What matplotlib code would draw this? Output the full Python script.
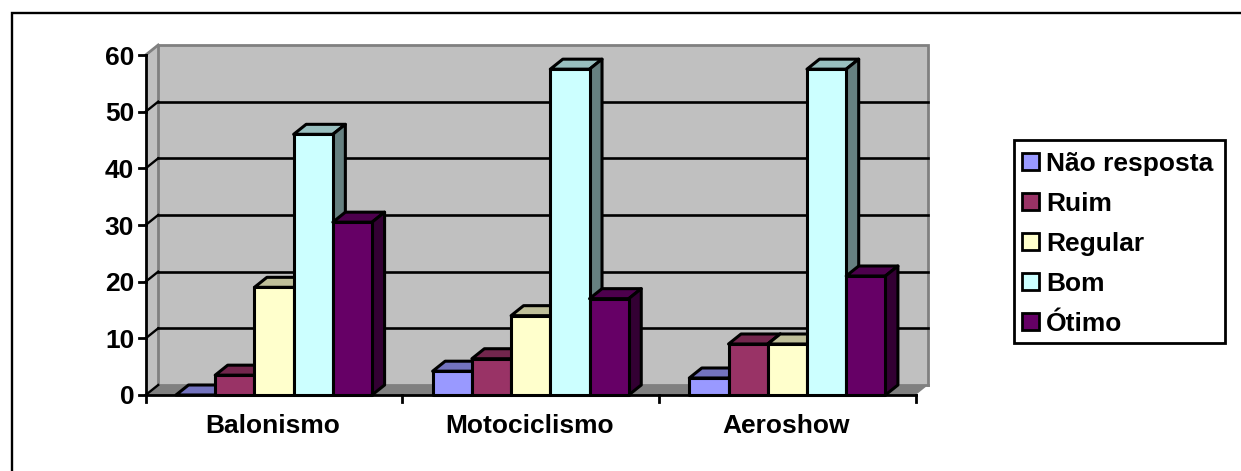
import matplotlib
matplotlib.use("Agg")
import matplotlib.pyplot as plt
from matplotlib.patches import Polygon, Rectangle
from matplotlib.colors import to_rgb

categories = ["Balonismo", "Motociclismo", "Aeroshow"]
series_names = ["Não resposta", "Ruim", "Regular", "Bom", "Ótimo"]
nao_resposta = [0, 4.2, 3.0]
ruim = [3.5, 6.4, 9.0]
regular = [19.0, 14.0, 9.0]
bom = [46.0, 57.5, 57.5]
otimo = [30.5, 17.0, 21.0]
series_values = [nao_resposta, ruim, regular, bom, otimo]
colors = ["#9999FF", "#993366", "#FFFFCC", "#CCFFFF", "#660066"]
y_ticks = [0, 10, 20, 30, 40, 50, 60]

W, H = 1241, 471
FS = 19.0
plt.rcParams["font.family"] = ["Liberation Sans", "DejaVu Sans"]
fig = plt.figure(figsize=(W / 100, H / 100), dpi=100)

# Outer frame of the chart area; only its top and left edges fall inside the figure
overlay = fig.add_axes([0, 0, 1, 1], zorder=0)
overlay.set_xlim(0, W)
overlay.set_ylim(H, 0)
overlay.axis("off")
overlay.plot([11.5, 11.5, W], [H, 12.5, 12.5], color="black", lw=1.7, solid_joinstyle="miter")

# Front plane of the plot: x runs across the three categories, y across the value scale
px_left, px_right, px_zero, px_top = 145.7, 915.7, 395.0, 55.0
ax = fig.add_axes([px_left / W, 1 - px_zero / H, (px_right - px_left) / W, (px_zero - px_top) / H],
                  zorder=1)
ax.set_xlim(0, 3)
ax.set_ylim(0, 60)
ax.patch.set_alpha(0)
for s in ax.spines.values():
    s.set_visible(False)
ax.set_xticks([])
ax.set_yticks([])

# Depth of the oblique projection, in data units
dx = 12.5 / ((px_right - px_left) / 3)
dy = 10 / ((px_zero - px_top) / 60)


def shade(color, factor):
    return tuple(c * factor for c in to_rgb(color))


def poly(points, fc, ec="none", lw=0.0, z=1):
    ax.add_patch(Polygon(points, closed=True, fc=fc, ec=ec, lw=lw, zorder=z,
                         clip_on=False, joinstyle="round"))


# Walls and floor
poly([(dx, dy), (3 + dx, dy), (3 + dx, 60 + dy), (dx, 60 + dy)], "#C0C0C0", z=1)
poly([(0, 0), (dx, dy), (dx, 60 + dy), (0, 60)], "#C0C0C0", z=1)
poly([(0, 0), (3, 0), (3 + dx, dy), (dx, dy)], "#808080", z=1)
ax.plot([dx, dx, 3 + dx, 3 + dx], [dy, 60 + dy, 60 + dy, dy], color="#808080", lw=2.0,
        clip_on=False, zorder=1.5, solid_joinstyle="miter")
ax.plot([dx, 3 + dx], [dy, dy], color="#808080", lw=2.0, clip_on=False, zorder=1.5)
ax.plot([0, dx], [60, 60 + dy], color="#808080", lw=2.0, clip_on=False, zorder=1.5)

# Gridlines on the back wall and their returns on the side wall
for t in y_ticks[1:-1]:
    ax.plot([dx, 3 + dx], [t + dy, t + dy], color="black", lw=1.9, clip_on=False, zorder=2)
for t in y_ticks[:-1]:
    ax.plot([0, dx], [t, t + dy], color="black", lw=1.7, clip_on=False, zorder=2)

# Bars, drawn left to right so each front face covers its neighbour's side
bar_w = 0.1528
group_start = 0.118
for i in range(len(categories)):
    for j, (vals, col) in enumerate(zip(series_values, colors)):
        v = vals[i]
        x0 = i + group_start + j * bar_w
        x1 = x0 + bar_w
        z = 3 + i + j * 0.1
        poly([(x0, v), (x1, v), (x1 + dx, v + dy), (x0 + dx, v + dy)], shade(col, 0.75), "black", 2.2, z)
        poly([(x1, 0), (x1 + dx, dy), (x1 + dx, v + dy), (x1, v)], shade(col, 0.5), "black", 2.2, z)
        if v > 0:
            poly([(x0, 0), (x1, 0), (x1, v), (x0, v)], col, "black", 2.2, z + 0.01)

# Axis lines, ticks and labels
ax.plot([0, 0], [0, 60], color="black", lw=2.0, clip_on=False, zorder=20)
ax.plot([0, 3], [0, 0], color="black", lw=2.0, clip_on=False, zorder=20)
tick_x = 7 / ((px_right - px_left) / 3)
tick_y = 7 / ((px_zero - px_top) / 60)
for t in y_ticks:
    ax.plot([-tick_x, 0], [t, t], color="black", lw=2.0, clip_on=False, zorder=20)
    ax.annotate(str(t), (0, t), xytext=(-8.3, 0), textcoords="offset points", ha="right",
                va="center_baseline", fontsize=FS, fontweight="bold", annotation_clip=False)
for c in range(4):
    ax.plot([c, c], [0, -tick_y], color="black", lw=2.0, clip_on=False, zorder=20)
for c, name in enumerate(categories):
    ax.annotate(name, (c + 0.5, 0), xytext=(-1, -20.5), textcoords="offset points", ha="center",
                va="center_baseline", fontsize=FS, fontweight="bold", annotation_clip=False)

# Legend box with square swatches
overlay2 = fig.add_axes([0, 0, 1, 1], zorder=30)
overlay2.set_xlim(0, W)
overlay2.set_ylim(H, 0)
overlay2.axis("off")
overlay2.add_patch(Rectangle((1013.5, 140), 211.5, 202.5, fc="white", ec="black", lw=2.0))
for k, (name, col) in enumerate(zip(series_names, colors)):
    yc = 161.5 + k * 40
    overlay2.add_patch(Rectangle((1022, yc - 8.5), 17, 17, fc=col, ec="black", lw=2.0))
    overlay2.text(1046, yc, name, ha="left", va="center_baseline", fontsize=FS, fontweight="bold")

fig.savefig("out.png", dpi=100, facecolor="white")
